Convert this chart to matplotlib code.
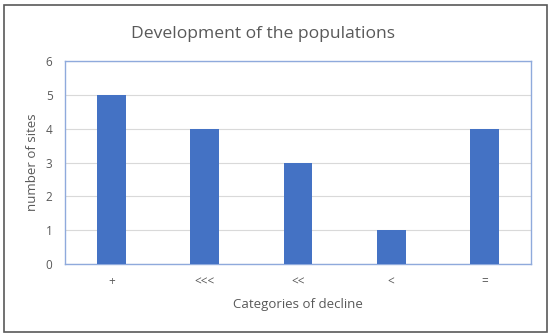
import matplotlib
matplotlib.use("Agg")
import matplotlib.pyplot as plt
from matplotlib.patches import Rectangle

categories = ["+", "<<<", "<<", "<", "="]
sites = [5, 4, 3, 1, 4]
yticks = [0, 1, 2, 3, 4, 5, 6]

plt.rcParams['font.family'] = ['Open Sans', 'DejaVu Sans']
fig = plt.figure(figsize=(5.5, 3.36), dpi=100)
ax = fig.add_axes([65/550, 1-264/336, (531-65)/550, (264-61)/336])

x = list(range(len(categories)))
ax.bar(x, sites, width=0.31, color="#4472C4", zorder=3)
ax.set_xlim(-0.5, len(categories)-0.5)
ax.set_ylim(0, 6)
ax.set_yticks(yticks)
ax.set_xticks(x)
ax.set_xticklabels(categories)
ax.yaxis.grid(True, color="#D9D9D9", linewidth=0.8, zorder=0)
for s in ax.spines.values():
    s.set_color("#8FAADC")
    s.set_linewidth(1.0)
ax.tick_params(length=0, colors="#595959", labelsize=8.5)
ax.tick_params(axis='x', pad=8)
ax.tick_params(axis='y', pad=9)
ax.set_ylabel("number of sites", color="#595959", fontsize=9.5, labelpad=5)
ax.set_xlabel("Categories of decline", color="#595959", fontsize=9.5, labelpad=7)
fig.text(0.478, 0.898, "Development of the populations", ha="center", va="center",
         fontsize=12.6, color="#595959")

fig.patches.append(Rectangle((4/550, 4/336), 543/550, 327/336, transform=fig.transFigure,
                             fill=False, edgecolor="#595959", linewidth=1.2))
fig.savefig("out.png", dpi=100)
